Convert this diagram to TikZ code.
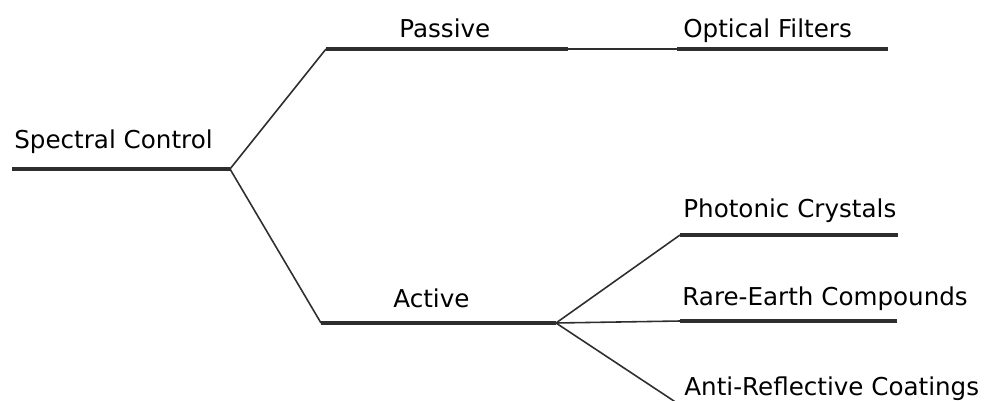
\documentclass[tikz,border=0pt]{standalone}
\usepackage{fontspec}
\setmainfont{DejaVu Sans}
\usepackage{xcolor}
\definecolor{ink}{HTML}{2E2E2E}

\begin{document}
\begin{tikzpicture}[x=0.02cm, y=-0.02cm,
    trunk/.style={draw=ink, line width=2.3pt},
    twig/.style={draw=ink, line width=0.9pt},
    lbl/.style={anchor=base west, inner sep=0pt, text=black, font=\fontsize{14}{16}\selectfont}]
  \clip (0,0) rectangle (984,400);
  \useasboundingbox (0,0) rectangle (984,400);

  % end points of the underlines
  \coordinate (root-l) at (12,169);   \coordinate (root) at (230,169);
  \coordinate (pas-l) at (326,49);    \coordinate (pas-r) at (568,49);
  \coordinate (opt-l) at (677,49);    \coordinate (opt-r) at (888,49);
  \coordinate (act-l) at (321,323);   \coordinate (act) at (556,323);
  \coordinate (pho-l) at (680,235);   \coordinate (pho-r) at (898,235);
  \coordinate (rar-l) at (680,321);   \coordinate (rar-r) at (897,321);
  \coordinate (ant-l) at (680,405);

  % labels
  \node[lbl] (spectral) at (14,148) {Spectral Control};
  \node[lbl] (passive) at (399,37) {Passive};
  \node[lbl] (optical) at (683,37) {Optical Filters};
  \node[lbl] (active) at (393,307) {Active};
  \node[lbl] (photonic) at (683,217) {Photonic Crystals};
  \node[lbl] (rare) at (682,305) {Rare-Earth Compounds};
  \node[lbl] (anti) at (684,395) {Anti-Reflective Coatings};

  % tree
  \draw[trunk] (root-l) -- (root);
  \draw[twig] (root) -- (pas-l);
  \draw[twig] (root) -- (act-l);
  \draw[trunk] (pas-l) -- (pas-r);
  \draw[twig] (pas-r) -- (opt-l);
  \draw[trunk] (opt-l) -- (opt-r);
  \draw[trunk] (act-l) -- (act);
  \draw[twig] (act) -- (pho-l);
  \draw[twig] (act) -- (rar-l);
  \draw[twig] (act) -- (ant-l);
  \draw[trunk] (pho-l) -- (pho-r);
  \draw[trunk] (rar-l) -- (rar-r);
\end{tikzpicture}
\end{document}
